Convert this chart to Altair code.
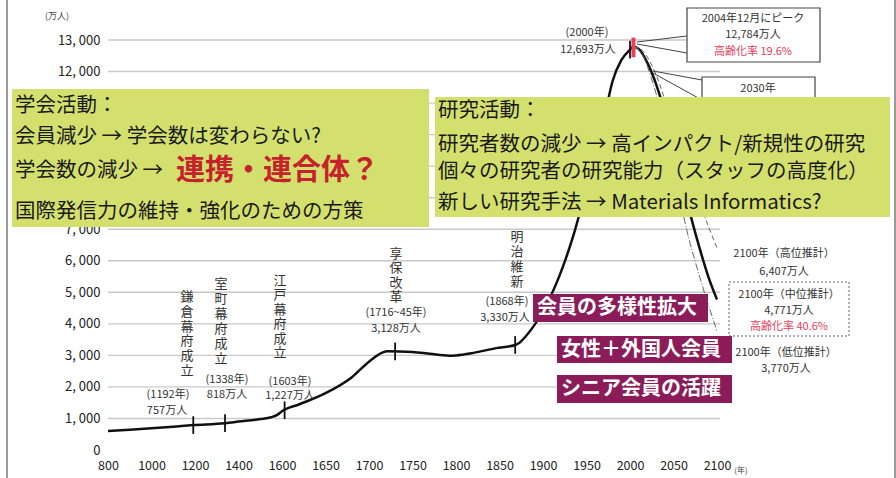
import altair as alt
import pandas as pd

FONT = "Noto Sans CJK JP"
PL, PT = 108, 40          # page position of the plot origin
W, H = 612, 410

# ---------------- data ----------------
hist_year = [800, 900, 1000, 1100, 1192, 1338, 1400, 1500, 1550, 1580, 1600, 1620, 1650, 1680,
             1700, 1721, 1750, 1770, 1792, 1800, 1820, 1846, 1868, 1873, 1880, 1900, 1920, 1936,
             1950, 1960, 1970, 1980, 1990, 2000, 2004]
hist_pop = [600, 640, 690, 740, 790, 850, 900, 980, 1040, 1120, 1230, 1450, 1800, 2300,
            2800, 3128, 3110, 3050, 2990, 3000, 3080, 3230, 3330, 3400, 3600, 4400, 5600, 6900,
            8320, 9340, 10470, 11700, 12360, 12693, 12784]
mid_year = [2010, 2020, 2030, 2040, 2050, 2060, 2070, 2080, 2090, 2100]
mid_pop = [12718, 12274, 11600, 10700, 9515, 8500, 7400, 6400, 5500, 4771]
high_year = [2004, 2010, 2030, 2050, 2070, 2090, 2100]
high_pop = [12784, 12750, 11900, 10200, 8600, 7100, 6407]
low_year = [2004, 2010, 2030, 2050, 2065, 2080, 2100]
low_pop = [12784, 12700, 11300, 9000, 7000, 5500, 3770]

tick_year = [1192, 1338, 1603, 1730, 1868, 2000]
tick_pop = [790, 850, 1260, 3128, 3330, 12693]
peak_year = [2004]
peak_pop = [12784]

x_ticks = [800, 1000, 1200, 1400, 1600, 1650, 1700, 1750, 1800, 1850, 1900, 1950, 2000, 2050, 2100]
# 8,000-11,000 are hidden behind the note boxes in the reference
y_ticks = [0, 1000, 2000, 3000, 4000, 5000, 6000, 7000, 12000, 13000]
grid_vals = [1000, 2000, 3000, 4000, 5000, 6000, 7000, 8000, 9000, 10000, 11000, 12000, 13000]

# ---------------- scales / axes ----------------
xscale = alt.Scale(domain=[800, 1600, 2100], range=[0, 174, 609], nice=False, zero=False)
yscale = alt.Scale(domain=[0, 13000], nice=False, zero=True)

x_axis = alt.Axis(values=x_ticks, grid=False, domain=False, ticks=False,
                  labelExpr="format(datum.value, 'd')",
                  labelFont=FONT, labelFontSize=12.5, labelColor="#222", labelPadding=9,
                  labelFlush=False, labelOverlap=False, title=None)
y_axis = alt.Axis(values=y_ticks, grid=False, domain=False, ticks=False,
                  labelFont=FONT, labelFontSize=13, labelColor="#222", labelPadding=8,
                  labelExpr="replace(format(datum.value, ','), ',', ', ')",
                  labelOverlap=False, title=None)

one = pd.DataFrame({"k": [0]})


def box(x1, y1, x2, y2, fill, stroke=None, sw=0, dash=None):
    kw = dict(fill=fill)
    if stroke:
        kw.update(stroke=stroke, strokeWidth=sw)
    if dash:
        kw.update(strokeDash=dash)
    return alt.Chart(one).mark_rect(**kw).encode(
        x=alt.value(x1 - PL), x2=alt.value(x2 - PL),
        y=alt.value(y1 - PT), y2=alt.value(y2 - PT))


def seg(x1, y1, x2, y2, color="#444", sw=1.0):
    return alt.Chart(one).mark_rule(color=color, strokeWidth=sw).encode(
        x=alt.value(x1 - PL), x2=alt.value(x2 - PL),
        y=alt.value(y1 - PT), y2=alt.value(y2 - PT))


def label(s, x, y, size=11, color="#333", align="center", baseline="middle",
          weight="normal", line_height=None):
    kw = dict(font=FONT, fontSize=size, color=color, align=align, baseline=baseline,
              fontWeight=weight, lineBreak="\n")
    if line_height:
        kw.update(lineHeight=line_height)
    return alt.Chart(one).mark_text(**kw).encode(
        x=alt.value(x - PL), y=alt.value(y - PT), text=alt.value(s))


def X():
    return alt.X("year:Q", scale=xscale, axis=x_axis)


def Y(field="pop"):
    return alt.Y(f"{field}:Q", scale=yscale, axis=y_axis)


df_main = pd.DataFrame({"year": hist_year + mid_year, "pop": hist_pop + mid_pop})
df_high = pd.DataFrame({"year": high_year, "pop": high_pop})
df_low = pd.DataFrame({"year": low_year, "pop": low_pop})
df_tick = pd.DataFrame({"year": tick_year, "pop": tick_pop})
df_peak = pd.DataFrame({"year": peak_year, "pop": peak_pop})
df_grid = pd.DataFrame({"pop": grid_vals})

grid = alt.Chart(df_grid).mark_rule(color="#c9c9c9", strokeWidth=1.4).encode(
    y=Y(), x=alt.value(0), x2=alt.value(W))

main = alt.Chart(df_main).mark_line(color="#111", strokeWidth=2.5, interpolate="monotone").encode(
    x=X(), y=Y())

high = alt.Chart(df_high).mark_line(color="#666", strokeWidth=1, strokeDash=[5, 3],
                                    interpolate="monotone").encode(x=X(), y=Y())
low = alt.Chart(df_low).mark_line(color="#666", strokeWidth=1, strokeDash=[7, 2, 1, 2],
                                  interpolate="monotone").encode(x=X(), y=Y())

ticks = alt.Chart(df_tick).transform_calculate(
    lo="datum.pop - 280", hi="datum.pop + 280"
).mark_rule(color="#111", strokeWidth=1.8).encode(x=X(), y=Y("lo"), y2="hi:Q")
peak = alt.Chart(df_peak).transform_calculate(
    lo="datum.pop - 330", hi="datum.pop + 290"
).mark_rule(color="#e8405a", strokeWidth=4).encode(x=X(), y=Y("lo"), y2="hi:Q")

GREEN = "#d4e06e"
PURPLE = "#8b1c59"
PINK = "#e8405a"

layers = [
    grid, main, high, low, ticks, peak,
    # frame
    seg(7, 0, 7, 478, color="#9a9a9a", sw=2),
    seg(895, 0, 895, 478, color="#9a9a9a", sw=2),
    label("(万人)", 57, 16, 9, color="#444"),
    label("(年)", 741, 471, 8, color="#444"),
    # event labels
    label("鎌\n倉\n幕\n府\n成\n立", 187, 291, 13, baseline="top", line_height=14.8),
    label("室\n町\n幕\n府\n成\n立", 221, 278, 13, baseline="top", line_height=15),
    label("江\n戸\n幕\n府\n成\n立", 280, 275, 13, baseline="top", line_height=14.4),
    label("享\n保\n改\n革", 396, 248, 13, baseline="top", line_height=14.4),
    label("明\n治\n維\n新", 517, 231, 13, baseline="top", line_height=15),
    label("(1192年)", 168, 395, 11), label("757万人", 167, 411, 11),
    label("(1338年)", 227, 380, 11), label("818万人", 227, 395, 11),
    label("(1603年)", 290, 382, 11), label("1,227万人", 290, 396, 11),
    label("(1716~45年)", 396, 313, 11), label("3,128万人", 396, 329, 11),
    label("(1868年)", 507, 302, 11), label("3,330万人", 505, 318, 11),
    label("(2000年)", 587, 33, 11), label("12,693万人", 588, 50, 11),
    # peak callout
    seg(637, 42, 687, 36), seg(637, 44, 687, 53),
    box(687, 8, 820, 62, "white", stroke="#444", sw=1.2),
    label("2004年12月にピーク", 753, 19, 11),
    label("12,784万人", 753, 35, 11),
    label("高齢化率 19.6%", 753, 52, 11, color=PINK),
    # 2030 callout
    seg(653, 71, 702, 80), seg(653, 73, 702, 100),
    box(702, 77, 815, 130, "white", stroke="#444", sw=1.2),
    label("2030年", 758, 89, 11),
    # 2100 annotations
    label("2100年（高位推計）", 784, 254, 11),
    label("6,407万人", 784, 272, 11),
    box(729, 282, 849, 336, "white", stroke="#666", sw=1, dash=[2, 2]),
    label("2100年（中位推計）", 789, 295, 11),
    label("4,771万人", 789, 311, 11),
    label("高齢化率 40.6%", 789, 327, 11, color=PINK),
    label("2100年（低位推計）", 786, 353, 11),
    label("3,770万人", 786, 369, 11),
    # green boxes
    box(12, 89, 429, 227, GREEN),
    label("学会活動：", 15, 106, 20.5, color="#1a1a1a", align="left"),
    label("会員減少 → 学会数は変わらない?", 15, 137, 20.5, color="#1a1a1a", align="left"),
    label("学会数の減少 →", 15, 171, 20.5, color="#1a1a1a", align="left"),
    label("連携・連合体？", 176, 171, 29, color="#c4222c", align="left", weight="bold"),
    label("国際発信力の維持・強化のための方策", 15, 212, 20.5, color="#1a1a1a", align="left"),
    box(435, 97, 890, 217, GREEN),
    label("研究活動：", 438, 111, 20.5, color="#1a1a1a", align="left"),
    label("研究者数の減少 → 高インパクト/新規性の研究", 438, 145, 20.5, color="#1a1a1a", align="left"),
    label("個々の研究者の研究能力（スタッフの高度化）", 438, 172, 20.5, color="#1a1a1a", align="left"),
    label("新しい研究手法 → Materials Informatics?", 438, 203, 20.5, color="#1a1a1a", align="left"),
    # purple labels
    box(533, 294, 708, 322, PURPLE),
    label("会員の多様性拡大", 537, 308, 20, color="white", align="left", weight="bold"),
    box(557, 336, 732, 363, PURPLE),
    label("女性＋外国人会員", 561, 349.5, 20, color="white", align="left", weight="bold"),
    box(557, 375, 732, 403, PURPLE),
    label("シニア会員の活躍", 561, 389, 20, color="white", align="left", weight="bold"),
]

chart = alt.layer(*layers).properties(
    width=W, height=H,
    autosize=alt.AutoSizeParams(type="none"),
    padding={"left": PL, "top": PT, "right": 896 - PL - W, "bottom": 478 - PT - H},
    background="white",
).configure_view(stroke=None)

chart.save("out.html", embed_options={"renderer": "svg", "actions": False})
